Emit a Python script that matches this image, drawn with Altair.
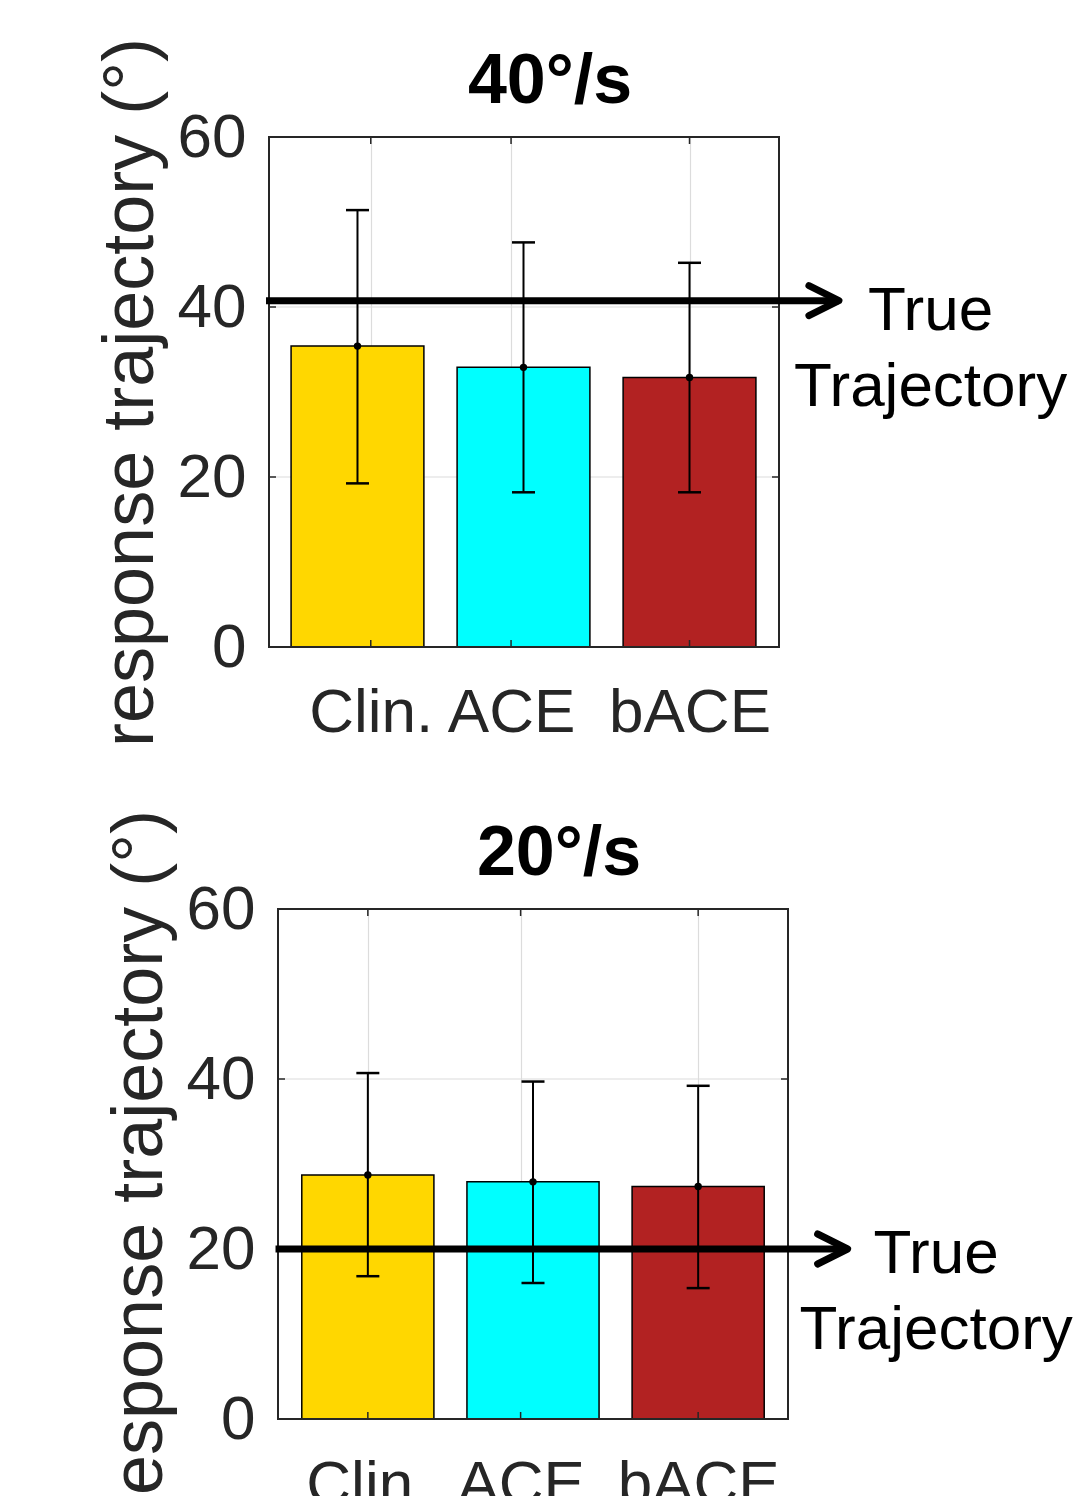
import altair as alt
import pandas as pd

FONT = "Liberation Sans"
AXIS_COLOR = "#262626"
GRID_COLOR = "#dcdcdc"

CATEGORIES = ["Clin.", "ACE", "bACE"]
POSITIONS = [1, 2, 3]
COLORS = ["#FFD700", "#00FFFF", "#B22222"]

MEAN_40 = [35.4, 32.9, 31.7]
LOW_40 = [19.25, 18.2, 18.2]
HIGH_40 = [51.4, 47.6, 45.2]

MEAN_20 = [28.7, 27.9, 27.35]
LOW_20 = [16.8, 16.0, 15.4]
HIGH_20 = [40.7, 39.7, 39.2]

Y_TICKS = [0, 20, 40, 60]
X_TICKS_40 = [1.08, 1.925, 3.0]
X_TICKS_20 = [1.0, 1.925, 3.0]
X_DOMAIN_40 = [0.467, 3.539]
X_DOMAIN_20 = [0.456, 3.544]

TRUE_40 = 40.75
TRUE_20 = 20.0
ARROW_X_40 = [0.449, 3.90]
ARROW_X_20 = [0.441, 3.905]
LABEL_X_40 = 4.452
LABEL_X_20 = 4.441

W = 510
H = 510


def panel(title, means, lows, highs, xdom, xticks, true_y, arrow_x, label_x, label_dy, off):
    df = pd.DataFrame({"cat": CATEGORIES, "pos": POSITIONS, "mean": means, "lo": lows, "hi": highs})
    L, R = off, off + W
    xs = alt.Scale(domain=xdom, range=[L, R], nice=False, zero=False)
    ys = alt.Scale(domain=[0, 60], nice=False, zero=False)

    x_axis = alt.Axis(
        values=xticks,
        labelExpr="datum.value < 1.5 ? 'Clin.' : (datum.value < 2.5 ? 'ACE' : 'bACE')",
        labelFontSize=62, labelFont=FONT, labelColor=AXIS_COLOR, labelPadding=35,
        ticks=False, tickSize=0, domain=False, grid=True, gridColor=GRID_COLOR, gridWidth=1.2,
        labelFlush=False, labelOverlap=False, title=None,
    )
    y_axis = alt.Axis(
        values=Y_TICKS, labelFontSize=62, labelFont=FONT, labelColor=AXIS_COLOR,
        labelPadding=23 - off,
        ticks=False, tickSize=0, domain=False, grid=False,
        labelFlush=False, labelOverlap=False,
        title="response trajectory (°)", titleFontSize=72, titleFont=FONT,
        titleFontWeight="normal", titleColor=AXIS_COLOR, titlePadding=10,
    )

    def X(f):
        return alt.X(f, scale=xs, axis=x_axis)

    def Y(f):
        return alt.Y(f, scale=ys, axis=y_axis)

    ydf = alt.Chart(pd.DataFrame({"v": Y_TICKS}))
    xdf = alt.Chart(pd.DataFrame({"v": xticks}))

    ygrid = ydf.mark_rule(color=GRID_COLOR, strokeWidth=1.2).encode(
        y=Y("v:Q"), x=alt.value(L), x2=alt.value(R))

    base = alt.Chart(df)
    bars = base.transform_calculate(x0="datum.pos - 0.4", x1="datum.pos + 0.4").mark_bar(
        stroke="black", strokeWidth=1.5
    ).encode(
        x=X("x0:Q"),
        x2="x1:Q",
        y=Y("mean:Q"),
        y2=alt.datum(0),
        color=alt.Color("cat:N", scale=alt.Scale(domain=CATEGORIES, range=COLORS), legend=None),
    )
    stem = base.mark_rule(color="black", strokeWidth=2).encode(x=X("pos:Q"), y=Y("lo:Q"), y2="hi:Q")
    cap_lo = base.mark_tick(orient="horizontal", color="black", size=23, thickness=2.5, opacity=1).encode(
        x=X("pos:Q"), y=Y("lo:Q"))
    cap_hi = base.mark_tick(orient="horizontal", color="black", size=23, thickness=2.5, opacity=1).encode(
        x=X("pos:Q"), y=Y("hi:Q"))
    dot = base.mark_point(filled=True, color="black", size=55, opacity=1).encode(x=X("pos:Q"), y=Y("mean:Q"))

    tk = dict(color=AXIS_COLOR, strokeWidth=1.5)
    yt_l = ydf.mark_rule(**tk).encode(y=Y("v:Q"), x=alt.value(L), x2=alt.value(L + 7))
    yt_r = ydf.mark_rule(**tk).encode(y=Y("v:Q"), x=alt.value(R - 7), x2=alt.value(R))
    xt_t = xdf.mark_rule(**tk).encode(x=X("v:Q"), y=alt.value(0), y2=alt.value(7))
    xt_b = xdf.mark_rule(**tk).encode(x=X("v:Q"), y=alt.value(H - 7), y2=alt.value(H))

    tdf = alt.Chart(pd.DataFrame({"t": [title]}))
    box = tdf.mark_rect(fill=None, filled=False, stroke=AXIS_COLOR, strokeWidth=2).encode(
        x=alt.value(L), x2=alt.value(R), y=alt.value(0), y2=alt.value(H))

    adf = alt.Chart(pd.DataFrame({"x": [arrow_x[0]], "x2": [arrow_x[1]], "y": [true_y]}))
    arrow = adf.mark_rule(color="black", strokeWidth=7).encode(x=X("x:Q"), x2="x2:Q", y=Y("y:Q"))
    head = adf.mark_point(
        shape="M -1 -0.5 L 0 0 L -1 0.5", filled=False, stroke="black", strokeWidth=7,
        size=3600, strokeCap="round", strokeJoin="round", opacity=1,
    ).encode(x=X("x2:Q"), y=Y("y:Q"))

    ldf = alt.Chart(pd.DataFrame({"x": [label_x], "y": [true_y], "t": ["True\nTrajectory"]}))
    label = ldf.mark_text(
        font=FONT, fontSize=62, lineBreak="\n", lineHeight=76, align="center",
        baseline="alphabetic", dy=label_dy, color="black",
    ).encode(x=X("x:Q"), y=Y("y:Q"), text="t:N")

    ttl = tdf.mark_text(
        font=FONT, fontSize=70, fontWeight="bold", color="black", align="center", baseline="alphabetic"
    ).encode(x=alt.value(L + 281), y=alt.value(-34), text="t:N")

    frame = tdf.mark_rule(opacity=0).encode(
        x=alt.value(-200), y=alt.value(-120), y2=alt.value(H + 120))

    return alt.layer(
        ygrid, bars, stem, cap_lo, cap_hi, dot, yt_l, yt_r, xt_t, xt_b, box,
        arrow, head, label, ttl, frame
    ).properties(width=W + off, height=H, view=alt.ViewBackground(stroke=None))


top = panel("40°/s", MEAN_40, LOW_40, HIGH_40, X_DOMAIN_40, X_TICKS_40, TRUE_40,
            ARROW_X_40, LABEL_X_40, 29, 0)
bottom = panel("20°/s", MEAN_20, LOW_20, HIGH_20, X_DOMAIN_20, X_TICKS_20, TRUE_20,
               ARROW_X_20, LABEL_X_20, 24, 9)

chart = alt.vconcat(top, bottom, spacing=22).properties(
    padding={"left": 61, "top": 9, "right": 0, "bottom": 0}
).configure_view(stroke=None)

chart.save("out.html", embed_options={"renderer": "svg", "actions": False})
